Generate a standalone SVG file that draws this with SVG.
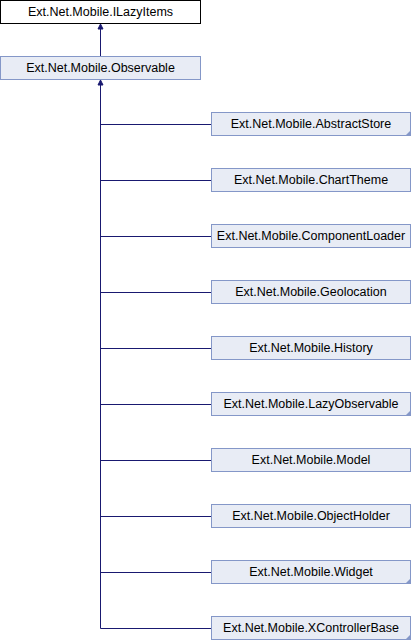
<svg xmlns="http://www.w3.org/2000/svg" width="412" height="640" viewBox="0 0 412 640">
<style>
.n rect{fill:#e8ecf5;stroke:#8497c8;stroke-width:1}
.w rect{fill:#ffffff;stroke:#000000}
text{font-family:"Liberation Sans",Arial,sans-serif;font-size:12.5px;fill:#000;text-anchor:middle}
.e{stroke:#191970;stroke-width:1;fill:none}
.ah{fill:#191970;stroke:#191970;stroke-width:1}
.fold{fill:#8497c8}
</style>
<rect width="412" height="640" fill="#ffffff"/>
<g id="connectors">
<path class="e" d="M100.5,27V56"/>
<polygon class="ah" points="100.5,24 98,29 103,29"/>
<path class="e" d="M100.5,83V628.5H211"/>
<polygon class="ah" points="100.5,80 98,85 103,85"/>
<path class="e" d="M100.5,124.5H211M100.5,180.5H211M100.5,236.5H211M100.5,292.5H211M100.5,348.5H211M100.5,404.5H211M100.5,460.5H211M100.5,516.5H211M100.5,572.5H211"/>
</g>
<g id="ILazyItems" class="w"><rect x="0.5" y="0.5" width="200" height="23"/><text x="100.5" y="16">Ext.Net.Mobile.ILazyItems</text></g>
<g id="Observable" class="n"><rect x="0.5" y="56.5" width="200" height="23"/><text x="100.5" y="72">Ext.Net.Mobile.Observable</text></g>
<g id="AbstractStore" class="n"><rect x="211.5" y="112.5" width="199" height="23"/><polygon class="fold" points="411,130 411,136 405,136"/><text x="311" y="128">Ext.Net.Mobile.AbstractStore</text></g>
<g id="ChartTheme" class="n"><rect x="211.5" y="168.5" width="199" height="23"/><text x="311" y="184">Ext.Net.Mobile.ChartTheme</text></g>
<g id="ComponentLoader" class="n"><rect x="211.5" y="224.5" width="199" height="23"/><text x="311" y="240">Ext.Net.Mobile.ComponentLoader</text></g>
<g id="Geolocation" class="n"><rect x="211.5" y="280.5" width="199" height="23"/><text x="311" y="296">Ext.Net.Mobile.Geolocation</text></g>
<g id="History" class="n"><rect x="211.5" y="336.5" width="199" height="23"/><text x="311" y="352">Ext.Net.Mobile.History</text></g>
<g id="LazyObservable" class="n"><rect x="211.5" y="392.5" width="199" height="23"/><polygon class="fold" points="411,410 411,416 405,416"/><text x="311" y="408">Ext.Net.Mobile.LazyObservable</text></g>
<g id="Model" class="n"><rect x="211.5" y="448.5" width="199" height="23"/><text x="311" y="464">Ext.Net.Mobile.Model</text></g>
<g id="ObjectHolder" class="n"><rect x="211.5" y="504.5" width="199" height="23"/><text x="311" y="520">Ext.Net.Mobile.ObjectHolder</text></g>
<g id="Widget" class="n"><rect x="211.5" y="560.5" width="199" height="23"/><polygon class="fold" points="411,578 411,584 405,584"/><text x="311" y="576">Ext.Net.Mobile.Widget</text></g>
<g id="XControllerBase" class="n"><rect x="211.5" y="616.5" width="199" height="23"/><polygon class="fold" points="411,634 411,640 405,640"/><text x="311" y="632">Ext.Net.Mobile.XControllerBase</text></g>
</svg>
